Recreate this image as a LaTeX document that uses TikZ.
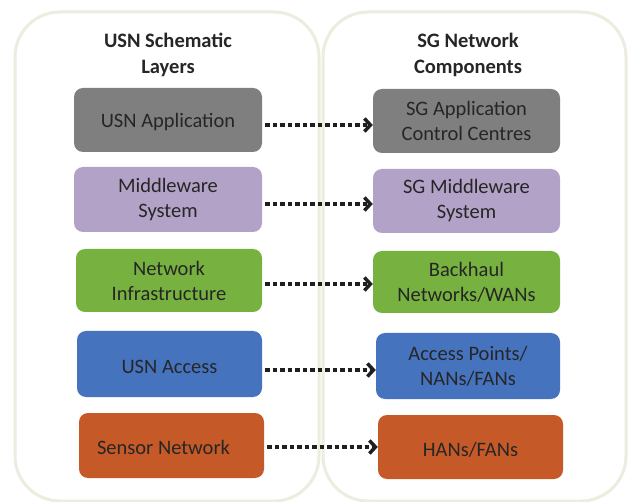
\documentclass[tikz,border=0pt]{standalone}
\usepackage{fontspec}
\setmainfont{Carlito}
\usetikzlibrary{arrows.meta}
\definecolor{panel}{HTML}{EEECDF}
\definecolor{cgray}{HTML}{7F7F7F}
\definecolor{cpurple}{HTML}{B3A2C7}
\definecolor{cgreen}{HTML}{77B140}
\definecolor{cblue}{HTML}{4673BE}
\definecolor{corange}{HTML}{C55A28}
\definecolor{txt}{HTML}{262626}
\tikzset{
  panelbox/.style={draw=panel, line width=3pt, rounded corners=45pt},
  layer/.style={rounded corners=9pt, inner sep=0pt, align=center, text=txt, font=\fontsize{20.5}{25}\selectfont, execute at begin node={\rule{0pt}{19pt}}},
  title/.style={align=center, text=txt, font=\fontsize{20.5}{26}\selectfont\bfseries},
  link/.style={line width=4pt, dash pattern=on 4.5pt off 3pt, -{Straight Barb[length=6pt,width=13pt,line width=3.5pt]}, draw=black!88},
}
\begin{document}
\begin{tikzpicture}[x=1pt,y=1pt]
\useasboundingbox (0,0) rectangle (629,501);
\fill[white] (0,0) rectangle (629,501);
% panels (y = 501 - ypx)
\draw[panelbox] (15,0) rectangle (319,489);
\draw[panelbox] (323,0) rectangle (626,489);
\node[title] (t1) at (168,446) {USN Schematic\\Layers};
\node[title] (t2) at (468,446) {SG Network\\Components};
% left boxes
\node[layer, fill=cgray, minimum width=188pt, minimum height=64pt] (a1) at (168,381) {USN Application};
\node[layer, fill=cpurple, minimum width=188pt, minimum height=65pt] (a2) at (168,301.5) {Middleware\\System};
\node[layer, fill=cgreen, minimum width=186pt, minimum height=63pt] (a3) at (169,220.5) {Network\\Infrastructure};
\node[layer, fill=cblue, minimum width=185pt, minimum height=66pt] (a4) at (169.5,137) {USN Access};
\node[layer, fill=corange, minimum width=185pt, minimum height=65pt] (a5) at (171.5,55.5) {Sensor Network\hspace*{16pt}};
% right boxes
\node[layer, fill=cgray, minimum width=187pt, minimum height=64pt] (b1) at (466.5,380) {SG Application\\Control Centres};
\node[layer, fill=cpurple, minimum width=187pt, minimum height=64pt] (b2) at (466.5,300) {SG Middleware\\System};
\node[layer, fill=cgreen, minimum width=187pt, minimum height=62pt] (b3) at (466.5,219) {Backhaul\\Networks/WANs};
\node[layer, fill=cblue, minimum width=184pt, minimum height=66pt] (b4) at (468,135) {Access Points/\\NANs/FANs};
\node[layer, fill=corange, minimum width=185pt, minimum height=64pt] (b5) at (470.5,54) {HANs/FANs};
% links
\draw[link] ([xshift=3pt]a1.east |- 0,376) -- (b1.west |- 0,376);
\draw[link] ([xshift=3pt]a2.east |- 0,297) -- (b2.west |- 0,297);
\draw[link] ([xshift=3pt]a3.east |- 0,217) -- (b3.west |- 0,217);
\draw[link] ([xshift=3pt]a4.east |- 0,131) -- (b4.west |- 0,131);
\draw[link] ([xshift=3pt]a5.east |- 0,54) -- (b5.west |- 0,54);
\end{tikzpicture}
\end{document}
